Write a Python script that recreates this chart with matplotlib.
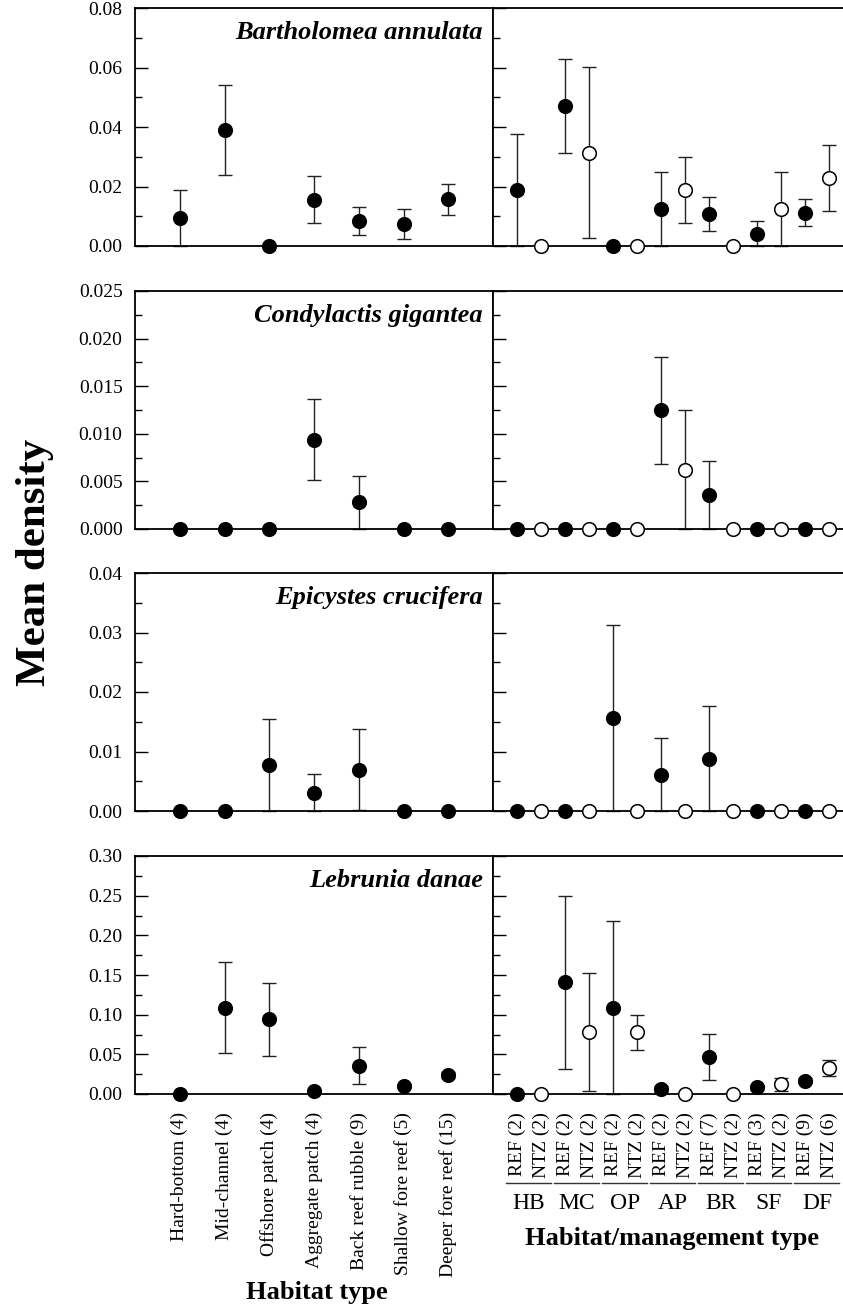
import numpy as np
import matplotlib
matplotlib.use('Agg')
import matplotlib.pyplot as plt
from matplotlib.ticker import MultipleLocator, FormatStrFormatter

plt.rcParams['font.family'] = ['Liberation Serif', 'DejaVu Serif']

# habitat labels (left) and habitat/management labels (right)
hab_labels = ["Hard-bottom (4)", "Mid-channel (4)", "Offshore patch (4)", "Aggregate patch (4)",
              "Back reef rubble (9)", "Shallow fore reef (5)", "Deeper fore reef (15)"]
mgmt_labels = ["REF (2)", "NTZ (2)", "REF (2)", "NTZ (2)", "REF (2)", "NTZ (2)", "REF (2)",
               "NTZ (2)", "REF (7)", "NTZ (2)", "REF (3)", "NTZ (2)", "REF (9)", "NTZ (6)"]
groups = ["HB", "MC", "OP", "AP", "BR", "SF", "DF"]
species = ["Bartholomea annulata", "Condylactis gigantea", "Epicystes crucifera", "Lebrunia danae"]

# mean density and SE by habitat
ba_hab_mean = [0.0094, 0.0390, 0.0, 0.0156, 0.0083, 0.0074, 0.0157]
ba_hab_se = [0.0094, 0.0150, 0.0, 0.0078, 0.0047, 0.0052, 0.0053]
cg_hab_mean = [0.0, 0.0, 0.0, 0.0094, 0.0028, 0.0, 0.0]
cg_hab_se = [0.0, 0.0, 0.0, 0.0043, 0.0028, 0.0, 0.0]
ec_hab_mean = [0.0, 0.0, 0.0077, 0.0031, 0.0069, 0.0, 0.0]
ec_hab_se = [0.0, 0.0, 0.0078, 0.0031, 0.0068, 0.0, 0.0]
ld_hab_mean = [0.0, 0.109, 0.094, 0.0038, 0.0358, 0.0101, 0.0236]
ld_hab_se = [0.0, 0.057, 0.0457, 0.0012, 0.0232, 0.0025, 0.004]

# mean density and SE by habitat/management (REF, NTZ alternating)
ba_mgmt_mean = [0.0188, 0.0, 0.047, 0.0314, 0.0, 0.0, 0.0125, 0.0188, 0.0108, 0.0, 0.0042, 0.0125, 0.0112, 0.0229]
ba_mgmt_se = [0.0188, 0.0, 0.0158, 0.0288, 0.0, 0.0, 0.0125, 0.011, 0.0057, 0.0, 0.0042, 0.0125, 0.0045, 0.0112]
cg_mgmt_mean = [0.0, 0.0, 0.0, 0.0, 0.0, 0.0, 0.01247, 0.00622, 0.00355, 0.0, 0.0, 0.0, 0.0, 0.0]
cg_mgmt_se = [0.0, 0.0, 0.0, 0.0, 0.0, 0.0, 0.0056, 0.00625, 0.0036, 0.0, 0.0, 0.0, 0.0, 0.0]
ec_mgmt_mean = [0.0, 0.0, 0.0, 0.0, 0.0156, 0.0, 0.0061, 0.0, 0.0088, 0.0, 0.0, 0.0, 0.0, 0.0]
ec_mgmt_se = [0.0, 0.0, 0.0, 0.0, 0.0156, 0.0, 0.0062, 0.0, 0.0089, 0.0, 0.0, 0.0, 0.0, 0.0]
ld_mgmt_mean = [0.0, 0.0, 0.1406, 0.0779, 0.109, 0.0779, 0.0067, 0.0, 0.0463, 0.0, 0.0084, 0.0122, 0.0168, 0.0328]
ld_mgmt_se = [0.0, 0.0, 0.1088, 0.0741, 0.109, 0.022, 0.004, 0.0, 0.029, 0.0, 0.003, 0.0078, 0.003, 0.0097]

hab_means = [ba_hab_mean, cg_hab_mean, ec_hab_mean, ld_hab_mean]
hab_ses = [ba_hab_se, cg_hab_se, ec_hab_se, ld_hab_se]
mgmt_means = [ba_mgmt_mean, cg_mgmt_mean, ec_mgmt_mean, ld_mgmt_mean]
mgmt_ses = [ba_mgmt_se, cg_mgmt_se, ec_mgmt_se, ld_mgmt_se]

ylims = [0.08, 0.025, 0.04, 0.30]
majors = [0.02, 0.005, 0.01, 0.05]
fmts = ['%.2f', '%.3f', '%.2f', '%.2f']

W, H = 843, 1311
fig = plt.figure(figsize=(W / 100, H / 100), dpi=100)

panel_px = [(8, 246), (291, 529), (573, 811), (856, 1094)]
lx0, lx1 = 135, 493
rx1 = 853

def draw(ax, x, mean, se, filled):
  mean = np.asarray(mean)
  se = np.asarray(se)
  lo = np.minimum(se, mean)
  ax.errorbar(x, mean, yerr=[lo, se], fmt='none', ecolor='#222222', elinewidth=1.0,
              capsize=4.7, capthick=1.0, clip_on=False, zorder=2)
  for xi, m, f in zip(x, mean, filled):
    ax.plot(xi, m, 'o', ms=9.8, mec='black', mew=1.1,
            mfc='black' if f else 'white', clip_on=False, zorder=3)

def style_y(ax, i, labels=True):
  ax.set_ylim(0, ylims[i])
  ax.yaxis.set_major_locator(MultipleLocator(majors[i]))
  ax.yaxis.set_minor_locator(MultipleLocator(majors[i] / 2))
  ax.yaxis.set_major_formatter(FormatStrFormatter(fmts[i]))
  ax.tick_params(axis='y', which='major', direction='in', length=9.4, width=1.0,
                 labelsize=14, pad=9, labelleft=labels)
  ax.tick_params(axis='y', which='minor', direction='in', length=5, width=1.0)
  for s in ax.spines.values():
    s.set_linewidth(1.3)

for i in range(4):
  top, bot = panel_px[i]
  ax = fig.add_axes([lx0 / W, 1 - bot / H, (lx1 - lx0) / W, (bot - top) / H])
  x = np.arange(1, 8)
  draw(ax, x, hab_means[i], hab_ses[i], [True] * 7)
  ax.set_xlim(0, 8)
  style_y(ax, i)
  ax.text(0.972, 0.87, species[i], transform=ax.transAxes, ha='right', va='baseline',
          fontsize=19, fontweight='bold', fontstyle='italic')

  ax2 = fig.add_axes([lx1 / W, 1 - bot / H, (rx1 - lx1) / W, (bot - top) / H])
  x2 = np.arange(1, 15)
  draw(ax2, x2, mgmt_means[i], mgmt_ses[i], [k % 2 == 0 for k in range(14)])
  ax2.set_xlim(0, 15)
  style_y(ax2, i, labels=False)
  ax2.spines['right'].set_visible(False)

  if i < 3:
    ax.set_xticks([])
    ax2.set_xticks([])
  else:
    ax.set_xticks(x)
    ax.set_xticklabels(hab_labels, rotation=90, va='top', fontsize=14)
    ax.tick_params(axis='x', length=0, pad=13)
    ax2.set_xticks(x2)
    ax2.set_xticklabels(mgmt_labels, rotation=90, va='top', fontsize=14)
    ax2.tick_params(axis='x', length=0, pad=13)
    trans = ax2.get_xaxis_transform()
    for g, name in enumerate(groups):
      a = 2 * g + 1
      ax2.plot([a - 0.45, a + 1 + 0.4], [-0.374, -0.374], color='#333333', lw=1.0,
               transform=trans, clip_on=False)
      ax2.text(a + 0.5, -0.458, name, transform=trans, ha='center', va='center', fontsize=17)

fig.text(672 / W, 1 - 1238 / H, 'Habitat/management type', ha='center', va='center',
         fontsize=19, fontweight='bold')
fig.text(317 / W, 1 - 1293 / H, 'Habitat type', ha='center', va='center',
         fontsize=19, fontweight='bold')
fig.text(35 / W, 1 - 562 / H, 'Mean density', ha='center', va='center', rotation=90,
         fontsize=31, fontweight='bold')

fig.savefig('out.png', dpi=100)
